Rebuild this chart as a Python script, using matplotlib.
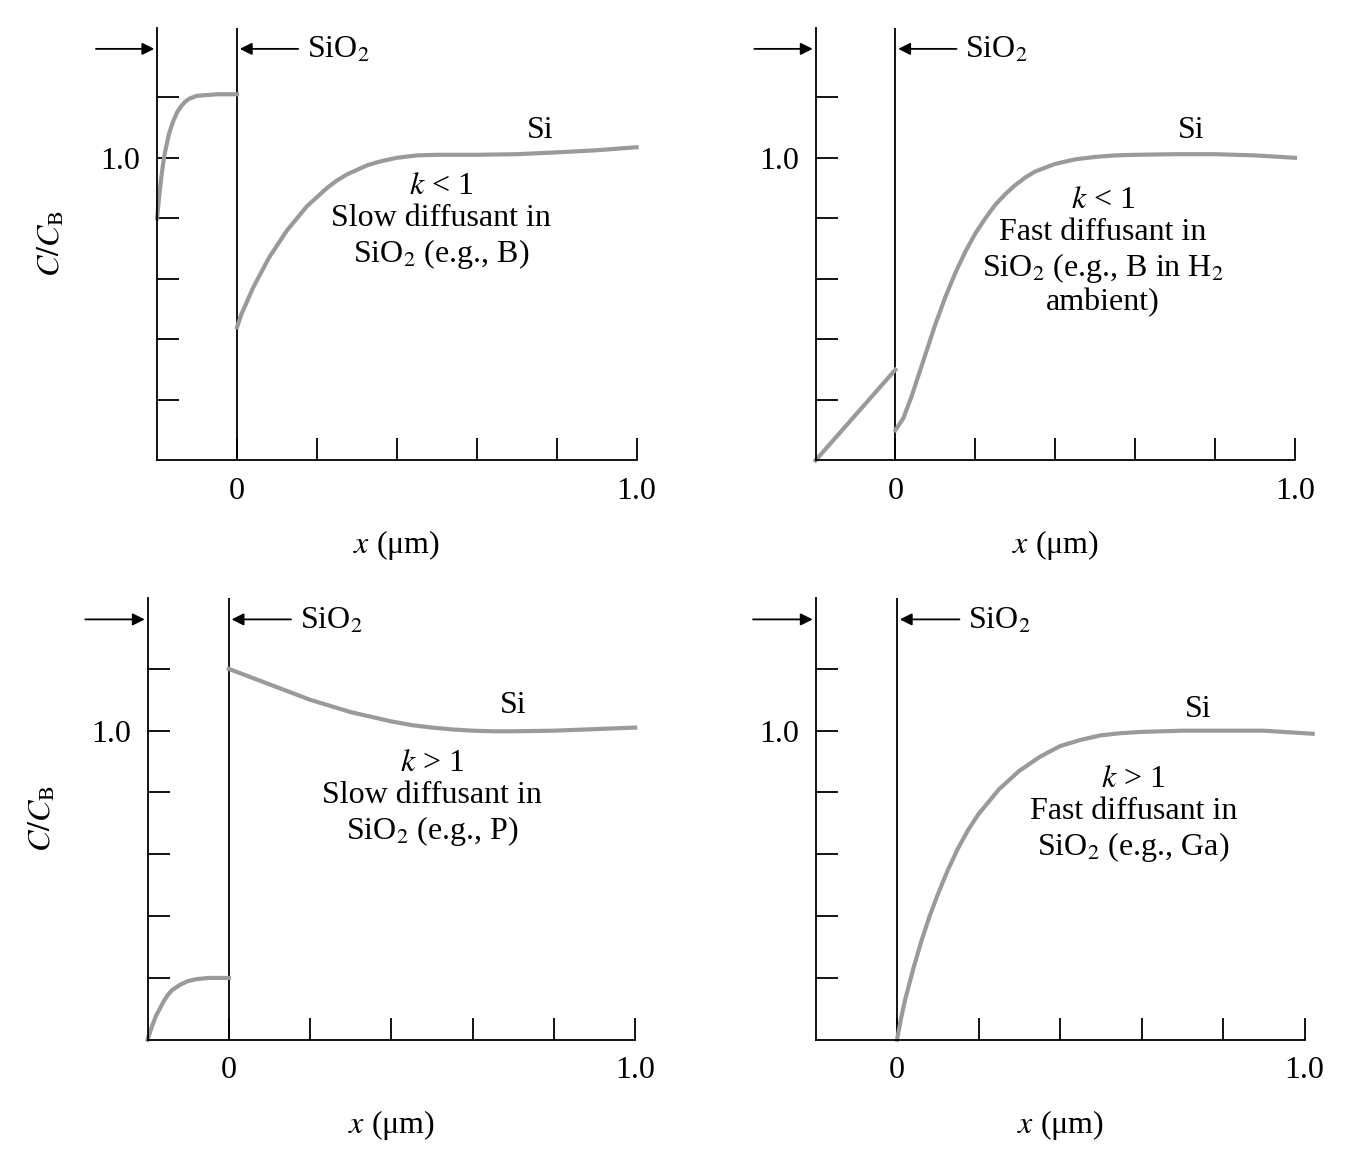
import matplotlib
matplotlib.use("Agg")
import matplotlib.pyplot as plt

plt.rcParams['font.family'] = ['Liberation Serif', 'DejaVu Serif']
plt.rcParams['mathtext.fontset'] = 'stix'

# Panel data (x in um, C/C_B)
ox1_x = [-0.2, -0.195, -0.19, -0.185, -0.18, -0.17, -0.16, -0.15, -0.14, -0.13, -0.12, -0.1, -0.05, 0.0]
ox1_y = [0.80, 0.87, 0.93, 0.98, 1.02, 1.08, 1.12, 1.15, 1.17, 1.185, 1.195, 1.205, 1.21, 1.21]
si1_x = [0.0, 0.01, 0.02, 0.04, 0.06, 0.08, 0.1, 0.125, 0.15, 0.175, 0.2, 0.225, 0.25, 0.275, 0.3, 0.325, 0.35, 0.375, 0.4, 0.45, 0.5, 0.55, 0.6, 0.7, 0.8, 0.9, 1.0]
si1_y = [0.44, 0.48, 0.51, 0.57, 0.62, 0.67, 0.71, 0.76, 0.80, 0.84, 0.87, 0.90, 0.925, 0.945, 0.96, 0.975, 0.985, 0.993, 1.0, 1.008, 1.01, 1.01, 1.01, 1.012, 1.018, 1.025, 1.035]

ox2_x = [-0.2, 0.0]
ox2_y = [0.0, 0.30]
si2_x = [0.0, 0.02, 0.04, 0.06, 0.08, 0.1, 0.125, 0.15, 0.175, 0.2, 0.225, 0.25, 0.275, 0.3, 0.325, 0.35, 0.4, 0.45, 0.5, 0.55, 0.6, 0.7, 0.8, 0.9, 1.0]
si2_y = [0.10, 0.14, 0.21, 0.29, 0.37, 0.45, 0.54, 0.62, 0.69, 0.75, 0.80, 0.845, 0.88, 0.91, 0.935, 0.955, 0.98, 0.995, 1.003, 1.008, 1.01, 1.012, 1.012, 1.008, 1.0]

ox3_x = [-0.2, -0.19, -0.18, -0.17, -0.16, -0.15, -0.14, -0.12, -0.1, -0.08, -0.05, 0.0]
ox3_y = [0.0, 0.04, 0.075, 0.10, 0.125, 0.145, 0.16, 0.178, 0.19, 0.196, 0.2, 0.2]
si3_x = [0.0, 0.05, 0.1, 0.15, 0.2, 0.25, 0.3, 0.35, 0.4, 0.45, 0.5, 0.55, 0.6, 0.65, 0.7, 0.8, 0.9, 1.0]
si3_y = [1.2, 1.175, 1.15, 1.125, 1.1, 1.08, 1.06, 1.045, 1.03, 1.018, 1.01, 1.004, 1.0, 0.998, 0.998, 1.0, 1.005, 1.01]

si4_x = [0.0, 0.01, 0.02, 0.04, 0.06, 0.08, 0.1, 0.125, 0.15, 0.175, 0.2, 0.25, 0.3, 0.35, 0.4, 0.45, 0.5, 0.55, 0.6, 0.7, 0.8, 0.9, 1.02]
si4_y = [0.0, 0.07, 0.13, 0.23, 0.32, 0.40, 0.47, 0.55, 0.62, 0.68, 0.73, 0.81, 0.87, 0.915, 0.95, 0.97, 0.985, 0.992, 0.996, 1.0, 1.0, 1.0, 0.99]

fig = plt.figure(figsize=(13.66, 11.54), dpi=100)
grey = '#9a9a9a'

panels = [
    dict(rect=[0.115, 0.601, 0.351, 0.375], ox=(ox1_x, ox1_y), si=(si1_x, si1_y),
         si_lab=(0.76, 1.09), txt=(0.51, 0.79),
         lines=["$k$ < 1", "Slow diffusant in", "SiO$_2$ (e.g., B)"], ylab=True),
    dict(rect=[0.597, 0.601, 0.351, 0.375], ox=(ox2_x, ox2_y), si=(si2_x, si2_y),
         si_lab=(0.74, 1.09), txt=(0.52, 0.69),
         lines=["$k$ < 1", "Fast diffusant in", "SiO$_2$ (e.g., B in H$_2$", "ambient)"], ylab=False),
    dict(rect=[0.108, 0.099, 0.357, 0.383], ox=(ox3_x, ox3_y), si=(si3_x, si3_y),
         si_lab=(0.7, 1.08), txt=(0.5, 0.78),
         lines=["$k$ > 1", "Slow diffusant in", "SiO$_2$ (e.g., P)"], ylab=True),
    dict(rect=[0.597, 0.099, 0.358, 0.383], ox=None, si=(si4_x, si4_y),
         si_lab=(0.74, 1.07), txt=(0.58, 0.73),
         lines=["$k$ > 1", "Fast diffusant in", "SiO$_2$ (e.g., Ga)"], ylab=False),
]

fs = 23
for p in panels:
    ax = fig.add_axes(p['rect'])
    ax.set_xlim(-0.2, 1.0)
    ax.set_ylim(0, 1.43)
    for s in ['top', 'right']:
        ax.spines[s].set_visible(False)
    for s in ['left', 'bottom']:
        ax.spines[s].set_linewidth(1.3)
    ax.set_xticks([0, 0.2, 0.4, 0.6, 0.8, 1.0])
    ax.set_xticklabels(['0', '', '', '', '', '1.0'], fontsize=fs)
    ax.set_yticks([0.2, 0.4, 0.6, 0.8, 1.0, 1.2])
    ax.set_yticklabels(['', '', '', '', '1.0', ''], fontsize=fs)
    ax.tick_params(direction='in', length=16, width=1.3, pad=12)
    ax.axvline(0, color='black', lw=1.3)
    if p['ox']:
        ax.plot(*p['ox'], color=grey, lw=3, clip_on=False)
    ax.plot(*p['si'], color=grey, lw=3, clip_on=False)
    ax.annotate('', xy=(-0.2, 1.36), xytext=(-0.36, 1.36), annotation_clip=False,
                arrowprops=dict(arrowstyle='-|>', color='black', lw=1.3, mutation_scale=18))
    ax.annotate('', xy=(0.0, 1.36), xytext=(0.16, 1.36), annotation_clip=False,
                arrowprops=dict(arrowstyle='-|>', color='black', lw=1.3, mutation_scale=18))
    ax.text(0.175, 1.355, 'SiO$_2$', fontsize=fs, va='center', ha='left')
    ax.text(*p['si_lab'], 'Si', fontsize=fs, ha='center', va='center')
    ax.text(p['txt'][0], p['txt'][1], "\n".join(p['lines']), fontsize=fs,
            ha='center', va='center', linespacing=1.15)
    ax.set_xlabel('$x$ (μm)', fontsize=fs, labelpad=16)
    if p['ylab']:
        ax.set_ylabel('$C/C_\\mathrm{B}$', fontsize=fs, labelpad=24)

fig.savefig('out.png', dpi=100)
